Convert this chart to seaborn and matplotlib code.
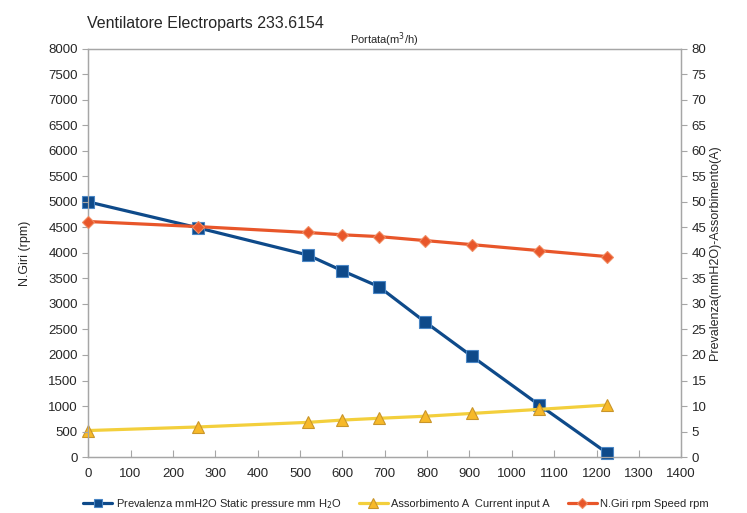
import matplotlib
matplotlib.use("Agg")
import matplotlib.pyplot as plt
import seaborn as sns


# Dati
portata = [0, 260, 518, 600, 686, 795, 905, 1065, 1225]
prevalenza = [50, 44.9, 39.6, 36.5, 33.4, 26.5, 19.8, 10.2, 0.8]
assorbimento = [5.2, 5.9, 6.8, 7.25, 7.6, 8.0, 8.55, 9.35, 10.2]
giri = [4615, 4515, 4400, 4355, 4320, 4242, 4163, 4045, 3928]

x_ticks = list(range(0, 1401, 100))
left_ticks = list(range(0, 8001, 500))
right_ticks = list(range(0, 81, 5))

BLU = '#0e4a8a'
GIALLO = '#f3cf3c'
ARANCIO = '#e8562a'
GRIGIO = '#a6a6a6'


def grafico():
    sns.set_style("white")
    plt.rcParams['font.family'] = ['Liberation Sans', 'DejaVu Sans']

    fig = plt.figure(figsize=(7.47, 5.13), dpi=100)
    ax = fig.add_axes([0.118, 0.109, 0.794, 0.796])
    ax2 = ax.twinx()

    sns.lineplot(x=portata, y=prevalenza, ax=ax2, color=BLU, linewidth=2.3,
                 marker='s', markersize=8, markerfacecolor=BLU,
                 markeredgecolor='#4a86c5', markeredgewidth=0.8,
                 estimator=None, sort=False, zorder=3, clip_on=False,
                 label='Prevalenza mmH2O Static pressure mm H$_2$O')
    sns.lineplot(x=portata, y=assorbimento, ax=ax2, color=GIALLO, linewidth=2.3,
                 marker='^', markersize=9, markerfacecolor='#f7b928',
                 markeredgecolor='#c9952a', markeredgewidth=0.8,
                 estimator=None, sort=False, zorder=4, clip_on=False,
                 label='Assorbimento A  Current input A')
    sns.lineplot(x=portata, y=giri, ax=ax, color=ARANCIO, linewidth=2.3,
                 marker='D', markersize=6, markerfacecolor=ARANCIO,
                 markeredgecolor='#f08a60', markeredgewidth=0.8,
                 estimator=None, sort=False, zorder=5, clip_on=False,
                 label='N.Giri rpm Speed rpm')

    # la curva dei giri sta sopra le altre
    ax.set_zorder(ax2.get_zorder() + 1)
    ax.patch.set_visible(False)

    ax.set_xlim(0, 1400)
    ax.set_ylim(0, 8000)
    ax2.set_ylim(0, 80)
    ax.set_xticks(x_ticks)
    ax.set_yticks(left_ticks)
    ax2.set_yticks(right_ticks)

    for a in (ax, ax2):
        for s in a.spines.values():
            s.set_color(GRIGIO)
            s.set_linewidth(0.9)
        a.grid(False)
    ax.tick_params(axis='x', direction='in', length=5, color=GRIGIO,
                   labelsize=9.5, pad=8, bottom=True)
    ax.tick_params(axis='y', direction='out', length=4, color=GRIGIO,
                   labelsize=9.5, left=True)
    ax2.tick_params(axis='y', direction='out', length=4, color=GRIGIO,
                    labelsize=9.5, right=True)

    ax.set_xlabel('')
    ax.set_ylabel('N.Giri (rpm)', fontsize=9, labelpad=12)
    ax2.set_ylabel('Prevalenza(mmH2O)-Assorbimento(A)', fontsize=9, labelpad=2)
    ax.set_title('Portata(m$^3$/h)', fontsize=8, pad=1)
    fig.text(0.116, 0.955, 'Ventilatore Electroparts 233.6154', fontsize=11.5,
             ha='left', va='center')

    h1, l1 = ax2.get_legend_handles_labels()
    h2, l2 = ax.get_legend_handles_labels()
    for a in (ax, ax2):
        if a.get_legend():
            a.get_legend().remove()
    fig.legend(h1 + h2, l1 + l2, loc='center', bbox_to_anchor=(0.53, 0.018),
               ncol=3, frameon=False, fontsize=8, handlelength=2.6,
               columnspacing=1.6, handletextpad=0.3, markerscale=0.8)

    fig.savefig('out.png', dpi=100)


def main():
    grafico()


if __name__ == '__main__':
    main()
